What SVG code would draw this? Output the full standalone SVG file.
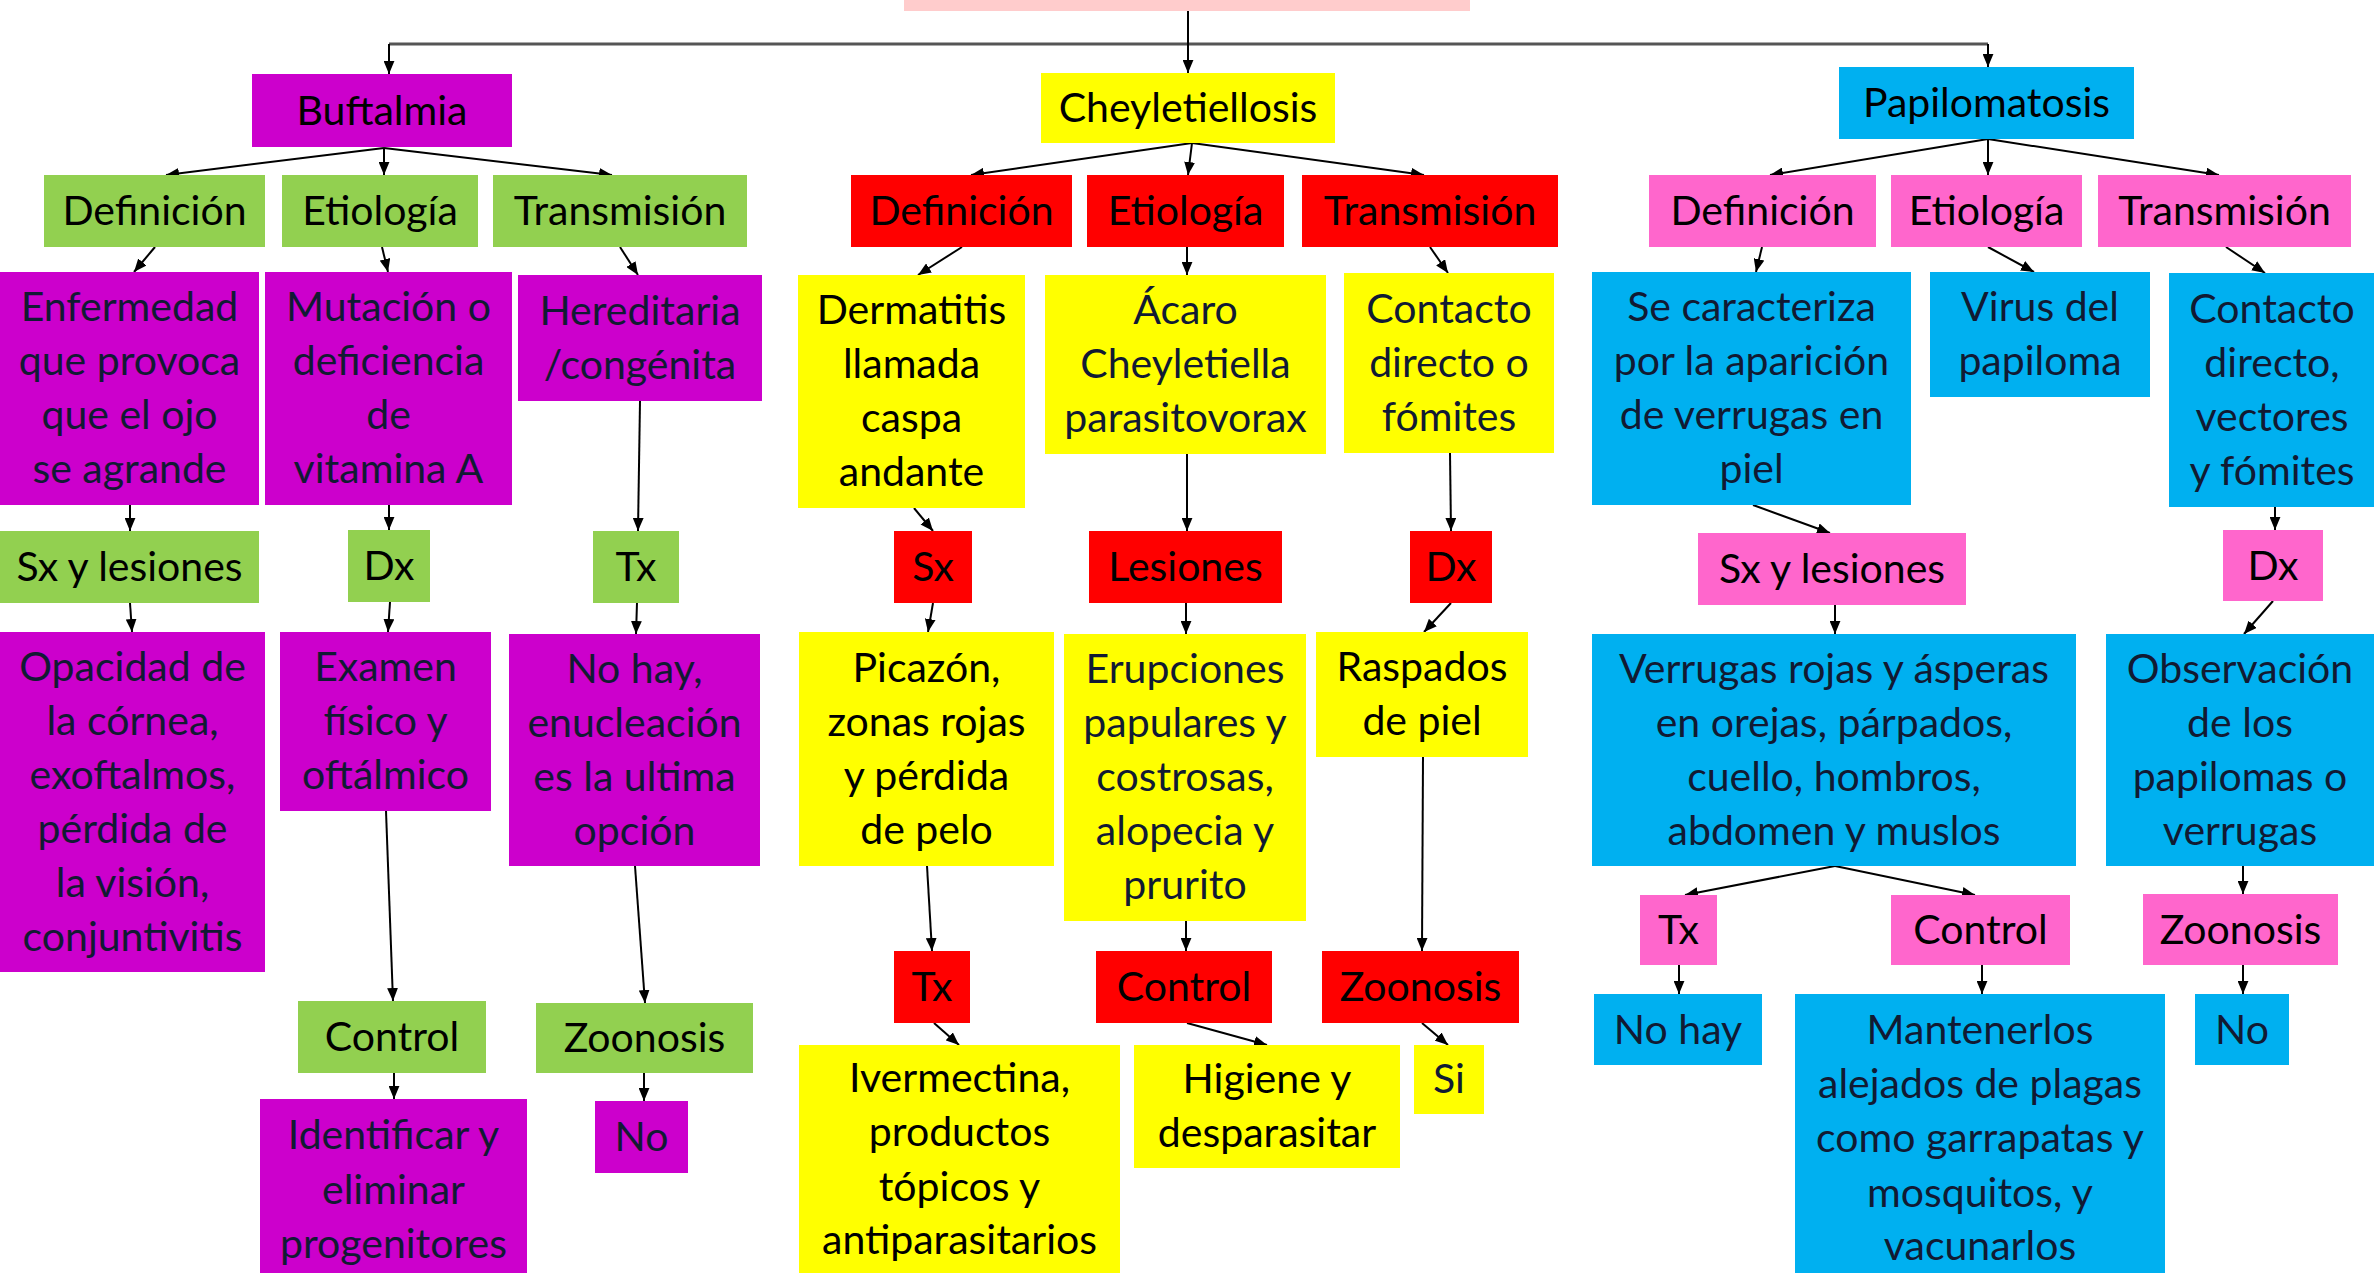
<svg xmlns="http://www.w3.org/2000/svg" width="2374" height="1273" viewBox="0 0 2374 1273">
<defs>
<style>
.mag{fill:#CC00CC}.grn{fill:#92D050}.yel{fill:#FFFF00}.red{fill:#FF0000}.blu{fill:#00B0F0}.pnk{fill:#FF66CC}
text{font-family:Lato,"Liberation Sans",sans-serif;font-size:41px;text-anchor:middle}
.h{fill:#000}
.b{fill:#111a33}
#connectors line{stroke:#000;stroke-width:2;marker-end:url(#ah)}
#connectors line.top{stroke:#555;stroke-width:3;marker-end:none}
</style>
<marker id="ah" viewBox="0 0 12 10" refX="12" refY="5" markerWidth="13" markerHeight="11" markerUnits="userSpaceOnUse" orient="auto">
<path d="M0,0 L12,5 L0,10 z" fill="#000"/>
</marker>
</defs>
<rect width="2374" height="1273" fill="#fff"/>

<g id="connectors">
<line class="top" x1="389" y1="44" x2="1988" y2="44"/>
<line x1="1188" y1="11" x2="1188" y2="73"/>
<line x1="389" y1="44" x2="389" y2="74"/>
<line x1="1988" y1="44" x2="1988" y2="67"/>
<!-- Buftalmia -->
<line x1="384" y1="148" x2="166" y2="175"/>
<line x1="384" y1="148" x2="384" y2="175"/>
<line x1="384" y1="148" x2="612" y2="175"/>
<line x1="155" y1="247" x2="134" y2="272"/>
<line x1="382" y1="247" x2="388" y2="272"/>
<line x1="620" y1="247" x2="638" y2="275"/>
<line x1="130" y1="505" x2="130" y2="531"/>
<line x1="130" y1="603" x2="132" y2="632"/>
<line x1="389" y1="505" x2="389" y2="530"/>
<line x1="390" y1="602" x2="388" y2="632"/>
<line x1="640" y1="401" x2="638" y2="531"/>
<line x1="637" y1="603" x2="636" y2="634"/>
<line x1="386" y1="811" x2="393" y2="1001"/>
<line x1="635" y1="866" x2="645" y2="1003"/>
<line x1="394" y1="1073" x2="394" y2="1099"/>
<line x1="644" y1="1073" x2="644" y2="1101"/>
<!-- Cheyletiellosis -->
<line x1="1192" y1="143" x2="971" y2="175"/>
<line x1="1192" y1="143" x2="1188" y2="175"/>
<line x1="1192" y1="143" x2="1424" y2="175"/>
<line x1="962" y1="247" x2="918" y2="275"/>
<line x1="1187" y1="247" x2="1187" y2="275"/>
<line x1="1430" y1="247" x2="1448" y2="273"/>
<line x1="914" y1="508" x2="933" y2="531"/>
<line x1="933" y1="603" x2="928" y2="632"/>
<line x1="927" y1="866" x2="932" y2="951"/>
<line x1="934" y1="1023" x2="959" y2="1045"/>
<line x1="1187" y1="454" x2="1187" y2="531"/>
<line x1="1186" y1="603" x2="1186" y2="634"/>
<line x1="1186" y1="921" x2="1186" y2="951"/>
<line x1="1187" y1="1023" x2="1267" y2="1045"/>
<line x1="1450" y1="453" x2="1451" y2="531"/>
<line x1="1451" y1="603" x2="1424" y2="632"/>
<line x1="1423" y1="757" x2="1422" y2="951"/>
<line x1="1422" y1="1023" x2="1448" y2="1045"/>
<!-- Papilomatosis -->
<line x1="1988" y1="139" x2="1770" y2="175"/>
<line x1="1988" y1="139" x2="1988" y2="175"/>
<line x1="1988" y1="139" x2="2219" y2="175"/>
<line x1="1762" y1="247" x2="1756" y2="272"/>
<line x1="1988" y1="247" x2="2034" y2="272"/>
<line x1="2226" y1="247" x2="2265" y2="273"/>
<line x1="1753" y1="505" x2="1830" y2="533"/>
<line x1="1835" y1="605" x2="1835" y2="634"/>
<line x1="1835" y1="866" x2="1685" y2="895"/>
<line x1="1835" y1="866" x2="1975" y2="895"/>
<line x1="1679" y1="965" x2="1679" y2="994"/>
<line x1="1982" y1="965" x2="1982" y2="994"/>
<line x1="2275" y1="507" x2="2275" y2="530"/>
<line x1="2273" y1="601" x2="2244" y2="634"/>
<line x1="2243" y1="866" x2="2243" y2="894"/>
<line x1="2243" y1="965" x2="2243" y2="994"/>
</g>

<g id="title"><rect x="904" y="0" width="566" height="11" fill="#FFCCCC"/></g>

<!-- Buftalmia branch -->
<g id="buftalmia"><rect class="mag" x="252" y="74" width="260" height="73"/><text class="h" x="382" y="125">Buftalmia</text></g>
<g id="buf-def"><rect class="grn" x="44" y="175" width="221" height="72"/><text class="h" x="154.5" y="225">Definición</text></g>
<g id="buf-eti"><rect class="grn" x="282" y="175" width="196" height="72"/><text class="h" x="380" y="225">Etiología</text></g>
<g id="buf-tra"><rect class="grn" x="493" y="175" width="254" height="72"/><text class="h" x="620" y="225">Transmisión</text></g>
<g id="buf-def-t"><rect class="mag" x="0" y="272" width="259" height="233"/><text class="b" x="129.5" y="321">Enfermedad</text><text class="b" x="129.5" y="375">que provoca</text><text class="b" x="129.5" y="429">que el ojo</text><text class="b" x="129.5" y="483">se agrande</text></g>
<g id="buf-eti-t"><rect class="mag" x="265" y="272" width="247" height="233"/><text class="b" x="388.5" y="321">Mutación o</text><text class="b" x="388.5" y="375">deficiencia</text><text class="b" x="388.5" y="429">de</text><text class="b" x="388.5" y="483">vitamina A</text></g>
<g id="buf-tra-t"><rect class="mag" x="518" y="275" width="244" height="126"/><text class="b" x="640" y="325">Hereditaria</text><text class="b" x="640" y="379">/congénita</text></g>
<g id="buf-sx"><rect class="grn" x="0" y="531" width="259" height="72"/><text class="h" x="129.5" y="581">Sx y lesiones</text></g>
<g id="buf-dx"><rect class="grn" x="348" y="530" width="82" height="72"/><text class="h" x="389" y="580">Dx</text></g>
<g id="buf-tx"><rect class="grn" x="593" y="531" width="86" height="72"/><text class="h" x="636" y="581">Tx</text></g>
<g id="buf-sx-t"><rect class="mag" x="0" y="632" width="265" height="340"/><text class="b" x="132.5" y="681">Opacidad de</text><text class="b" x="132.5" y="735">la córnea,</text><text class="b" x="132.5" y="789">exoftalmos,</text><text class="b" x="132.5" y="843">pérdida de</text><text class="b" x="132.5" y="897">la visión,</text><text class="b" x="132.5" y="951">conjuntivitis</text></g>
<g id="buf-dx-t"><rect class="mag" x="280" y="632" width="211" height="179"/><text class="b" x="385.5" y="681">Examen</text><text class="b" x="385.5" y="735">físico y</text><text class="b" x="385.5" y="789">oftálmico</text></g>
<g id="buf-tx-t"><rect class="mag" x="509" y="634" width="251" height="232"/><text class="b" x="634.5" y="683">No hay,</text><text class="b" x="634.5" y="737">enucleación</text><text class="b" x="634.5" y="791">es la ultima</text><text class="b" x="634.5" y="845">opción</text></g>
<g id="buf-ctl"><rect class="grn" x="298" y="1001" width="188" height="72"/><text class="h" x="392" y="1051">Control</text></g>
<g id="buf-zoo"><rect class="grn" x="536" y="1003" width="217" height="70"/><text class="h" x="644.5" y="1052">Zoonosis</text></g>
<g id="buf-ctl-t"><rect class="mag" x="260" y="1099" width="267" height="174"/><text class="b" x="393.5" y="1149">Identificar y</text><text class="b" x="393.5" y="1204">eliminar</text><text class="b" x="393.5" y="1258">progenitores</text></g>
<g id="buf-zoo-t"><rect class="mag" x="595" y="1101" width="93" height="72"/><text class="b" x="641.5" y="1151">No</text></g>

<!-- Cheyletiellosis branch -->
<g id="cheyletiellosis"><rect class="yel" x="1041" y="73" width="294" height="70"/><text class="h" x="1188" y="122">Cheyletiellosis</text></g>
<g id="che-def"><rect class="red" x="851" y="175" width="221" height="72"/><text class="h" x="961.5" y="225">Definición</text></g>
<g id="che-eti"><rect class="red" x="1087" y="175" width="197" height="72"/><text class="h" x="1185.5" y="225">Etiología</text></g>
<g id="che-tra"><rect class="red" x="1302" y="175" width="256" height="72"/><text class="h" x="1430" y="225">Transmisión</text></g>
<g id="che-def-t"><rect class="yel" x="798" y="275" width="227" height="233"/><text class="h" x="911.5" y="324">Dermatitis</text><text class="h" x="911.5" y="378">llamada</text><text class="h" x="911.5" y="432">caspa</text><text class="h" x="911.5" y="486">andante</text></g>
<g id="che-eti-t"><rect class="yel" x="1045" y="275" width="281" height="179"/><text class="b" x="1185.5" y="324">Ácaro</text><text class="b" x="1185.5" y="378">Cheyletiella</text><text class="b" x="1185.5" y="432">parasitovorax</text></g>
<g id="che-tra-t"><rect class="yel" x="1344" y="273" width="210" height="180"/><text class="b" x="1449" y="323">Contacto</text><text class="b" x="1449" y="377">directo o</text><text class="b" x="1449" y="431">fómites</text></g>
<g id="che-sx"><rect class="red" x="894" y="531" width="78" height="72"/><text class="h" x="933" y="581">Sx</text></g>
<g id="che-les"><rect class="red" x="1089" y="531" width="193" height="72"/><text class="h" x="1185.5" y="581">Lesiones</text></g>
<g id="che-dx"><rect class="red" x="1410" y="531" width="82" height="72"/><text class="h" x="1451" y="581">Dx</text></g>
<g id="che-sx-t"><rect class="yel" x="799" y="632" width="255" height="234"/><text class="h" x="926.5" y="682">Picazón,</text><text class="h" x="926.5" y="736">zonas rojas</text><text class="h" x="926.5" y="790">y pérdida</text><text class="h" x="926.5" y="844">de pelo</text></g>
<g id="che-les-t"><rect class="yel" x="1064" y="634" width="242" height="287"/><text class="b" x="1185" y="683">Erupciones</text><text class="b" x="1185" y="737">papulares y</text><text class="b" x="1185" y="791">costrosas,</text><text class="b" x="1185" y="845">alopecia y</text><text class="b" x="1185" y="899">prurito</text></g>
<g id="che-dx-t"><rect class="yel" x="1316" y="632" width="212" height="125"/><text class="h" x="1422" y="681">Raspados</text><text class="h" x="1422" y="735">de piel</text></g>
<g id="che-tx"><rect class="red" x="894" y="951" width="76" height="72"/><text class="h" x="932" y="1001">Tx</text></g>
<g id="che-ctl"><rect class="red" x="1096" y="951" width="176" height="72"/><text class="h" x="1184" y="1001">Control</text></g>
<g id="che-zoo"><rect class="red" x="1322" y="951" width="197" height="72"/><text class="h" x="1420.5" y="1001">Zoonosis</text></g>
<g id="che-tx-t"><rect class="yel" x="799" y="1045" width="321" height="228"/><text class="h" x="959.5" y="1092">Ivermectina,</text><text class="h" x="959.5" y="1146">productos</text><text class="h" x="959.5" y="1201">tópicos y</text><text class="h" x="959.5" y="1254">antiparasitarios</text></g>
<g id="che-ctl-t"><rect class="yel" x="1134" y="1045" width="266" height="123"/><text class="h" x="1267" y="1093">Higiene y</text><text class="h" x="1267" y="1147">desparasitar</text></g>
<g id="che-zoo-t"><rect class="yel" x="1414" y="1045" width="70" height="69"/><text class="b" x="1449" y="1093">Si</text></g>

<!-- Papilomatosis branch -->
<g id="papilomatosis"><rect class="blu" x="1839" y="67" width="295" height="72"/><text class="h" x="1986.5" y="117">Papilomatosis</text></g>
<g id="pap-def"><rect class="pnk" x="1649" y="175" width="227" height="72"/><text class="h" x="1762.5" y="225">Definición</text></g>
<g id="pap-eti"><rect class="pnk" x="1891" y="175" width="191" height="72"/><text class="h" x="1986.5" y="225">Etiología</text></g>
<g id="pap-tra"><rect class="pnk" x="2098" y="175" width="253" height="72"/><text class="h" x="2224.5" y="225">Transmisión</text></g>
<g id="pap-def-t"><rect class="blu" x="1592" y="272" width="319" height="233"/><text class="b" x="1751.5" y="321">Se caracteriza</text><text class="b" x="1751.5" y="375">por la aparición</text><text class="b" x="1751.5" y="429">de verrugas en</text><text class="b" x="1751.5" y="483">piel</text></g>
<g id="pap-eti-t"><rect class="blu" x="1930" y="272" width="220" height="125"/><text class="b" x="2040" y="321">Virus del</text><text class="b" x="2040" y="375">papiloma</text></g>
<g id="pap-tra-t"><rect class="blu" x="2169" y="273" width="205" height="234"/><text class="b" x="2272" y="323">Contacto</text><text class="b" x="2272" y="377">directo,</text><text class="b" x="2272" y="431">vectores</text><text class="b" x="2272" y="485">y fómites</text></g>
<g id="pap-sx"><rect class="pnk" x="1698" y="533" width="268" height="72"/><text class="h" x="1832" y="583">Sx y lesiones</text></g>
<g id="pap-dx"><rect class="pnk" x="2223" y="530" width="100" height="71"/><text class="h" x="2273" y="580">Dx</text></g>
<g id="pap-sx-t"><rect class="blu" x="1592" y="634" width="484" height="232"/><text class="b" x="1834" y="683">Verrugas rojas y ásperas</text><text class="b" x="1834" y="737">en orejas, párpados,</text><text class="b" x="1834" y="791">cuello, hombros,</text><text class="b" x="1834" y="845">abdomen y muslos</text></g>
<g id="pap-dx-t"><rect class="blu" x="2106" y="634" width="268" height="232"/><text class="b" x="2240" y="683">Observación</text><text class="b" x="2240" y="737">de los</text><text class="b" x="2240" y="791">papilomas o</text><text class="b" x="2240" y="845">verrugas</text></g>
<g id="pap-tx"><rect class="pnk" x="1640" y="895" width="77" height="70"/><text class="h" x="1678.5" y="944">Tx</text></g>
<g id="pap-ctl"><rect class="pnk" x="1891" y="895" width="179" height="70"/><text class="h" x="1980.5" y="944">Control</text></g>
<g id="pap-zoo"><rect class="pnk" x="2143" y="894" width="195" height="71"/><text class="h" x="2240.5" y="944">Zoonosis</text></g>
<g id="pap-tx-t"><rect class="blu" x="1594" y="994" width="168" height="71"/><text class="b" x="1678" y="1044">No hay</text></g>
<g id="pap-ctl-t"><rect class="blu" x="1795" y="994" width="370" height="279"/><text class="b" x="1980" y="1044">Mantenerlos</text><text class="b" x="1980" y="1098">alejados de plagas</text><text class="b" x="1980" y="1152">como garrapatas y</text><text class="b" x="1980" y="1207">mosquitos, y</text><text class="b" x="1980" y="1260">vacunarlos</text></g>
<g id="pap-zoo-t"><rect class="blu" x="2195" y="994" width="94" height="71"/><text class="b" x="2242" y="1044">No</text></g>
</svg>
